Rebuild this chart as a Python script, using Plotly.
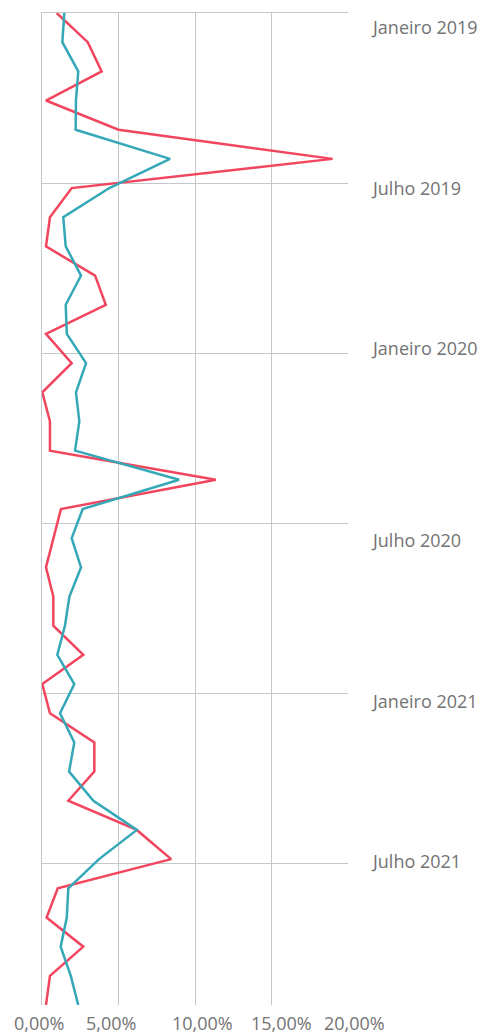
import plotly.graph_objects as go

# ---- data ----
months = [
    "Jan 2019", "Fev 2019", "Mar 2019", "Abr 2019", "Mai 2019", "Jun 2019",
    "Jul 2019", "Ago 2019", "Set 2019", "Out 2019", "Nov 2019", "Dez 2019",
    "Jan 2020", "Fev 2020", "Mar 2020", "Abr 2020", "Mai 2020", "Jun 2020",
    "Jul 2020", "Ago 2020", "Set 2020", "Out 2020", "Nov 2020", "Dez 2020",
    "Jan 2021", "Fev 2021", "Mar 2021", "Abr 2021", "Mai 2021", "Jun 2021",
    "Jul 2021", "Ago 2021", "Set 2021", "Out 2021", "Nov 2021",
]
red_values = [
    0.96, 2.99, 3.90, 0.26, 5.00, 18.99, 1.94, 0.52, 0.26, 3.47, 4.17, 0.26,
    1.94, 0.02, 0.52, 0.52, 11.36, 1.24, 0.75, 0.26, 0.74, 0.74, 2.70, 0.02,
    0.52, 3.42, 3.42, 1.72, 6.19, 8.44, 1.03, 0.30, 2.70, 0.52, 0.26,
]
teal_values = [
    1.46, 1.33, 2.37, 2.22, 2.20, 8.37, 4.40, 1.39, 1.55, 2.55, 1.55, 1.62,
    2.88, 2.22, 2.44, 2.16, 8.96, 2.66, 1.94, 2.55, 1.79, 1.50, 1.00, 2.11,
    1.18, 2.11, 1.77, 3.36, 6.20, 3.73, 1.72, 1.62, 1.22, 1.88, 2.37,
]
x_tick_values = [0, 5, 10, 15, 20]
x_tick_labels = ["0,00%", "5,00%", "10,00%", "15,00%", "20,00%"]
y_labels = ["Janeiro 2019", "Julho 2019", "Janeiro 2020", "Julho 2020", "Janeiro 2021", "Julho 2021"]

# ---- styling ----
RED = "#f2465e"
TEAL = "#35a8b8"
GRID = "#c3c8ca"
TEXT = "#737373"
FONT = "Open Sans"

y_grid_positions = [0, 5.828, 11.657, 17.485, 23.314, 29.142]
x_label_shifts = [-3, -8, 7, 10, 6]          # px offsets of x labels
y_label_centers = [26.5, 187.5, 347.5, 539.7, 700.8, 861.0]  # px from top of page

idx = list(range(len(months)))

fig = go.Figure()
fig.add_trace(go.Scatter(
    x=red_values, y=idx, mode="lines", customdata=months,
    line=dict(color=RED, width=2.5), cliponaxis=False,
    hovertemplate="%{customdata}: %{x:.2f}%<extra></extra>", showlegend=False,
))
fig.add_trace(go.Scatter(
    x=teal_values, y=idx, mode="lines", customdata=months,
    line=dict(color=TEAL, width=2.5), cliponaxis=False,
    hovertemplate="%{customdata}: %{x:.2f}%<extra></extra>", showlegend=False,
))

W, H = 484, 1034
T, B, L, R = 13, 29, 42, 136

annotations = []
for v, lab, sh in zip(x_tick_values, x_tick_labels, x_label_shifts):
    annotations.append(dict(
        x=v, xref="x", y=0, yref="paper", text=lab, showarrow=False,
        xanchor="center", yanchor="middle", xshift=sh, yshift=-18,
        font=dict(family=FONT, size=18, color=TEXT),
    ))
for lab, cy in zip(y_labels, y_label_centers):
    annotations.append(dict(
        x=1, xref="paper", y=1, yref="paper", text=lab, showarrow=False,
        xanchor="left", yanchor="middle", xshift=21, yshift=-(cy - T),
        font=dict(family=FONT, size=18, color=TEXT),
    ))

fig.update_layout(
    width=W, height=H,
    margin=dict(l=L, r=R, t=T, b=B, pad=0),
    paper_bgcolor="white", plot_bgcolor="white",
    font=dict(family=FONT, size=18, color=TEXT),
    xaxis=dict(
        range=[0, 20], tickvals=x_tick_values, showticklabels=False,
        showgrid=True, gridcolor=GRID, gridwidth=1, zeroline=False,
        side="top", showline=True, linecolor=GRID, linewidth=1,
        ticks="", fixedrange=True,
    ),
    yaxis=dict(
        range=[len(months) - 1, 0], tickvals=y_grid_positions, showticklabels=False,
        showgrid=True, gridcolor=GRID, gridwidth=1, zeroline=False,
        side="left", showline=True, linecolor=GRID, linewidth=1,
        ticks="", fixedrange=True,
    ),
    annotations=annotations,
    hovermode="closest",
)

fig.write_html("out.html")
